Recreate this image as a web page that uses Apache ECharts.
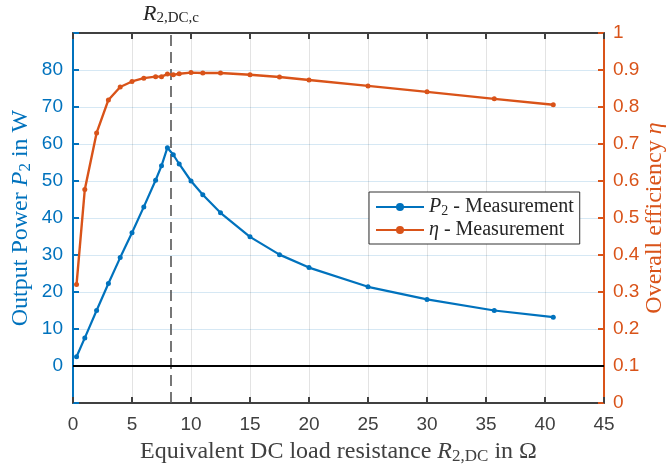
<!DOCTYPE html>
<html>
<head>
<meta charset="utf-8">
<script src="https://cdn.jsdelivr.net/npm/echarts@6/dist/echarts.min.js"></script>
<style>
  html, body { margin: 0; padding: 0; background: #fff; }
  #chart { width: 670px; height: 469px; }
</style>
</head>
<body>
<div id="chart"></div>
<script>
// Equivalent DC load resistance R2,DC in ohm
const resistance = [0.3, 1, 2, 3, 4, 5, 6, 7, 7.5, 8, 8.5, 9, 10, 11, 12.5, 15, 17.5, 20, 25, 30, 35.7, 40.7];
// Measured output power P2 in W
const power = [2.5, 7.6, 15.0, 22.3, 29.3, 36.0, 43.0, 50.2, 54.1, 59.0, 57.1, 54.6, 50.0, 46.3, 41.4, 34.9, 30.1, 26.6, 21.4, 18.0, 15.0, 13.2];
// Measured overall efficiency
const efficiency = [0.320, 0.577, 0.730, 0.819, 0.854, 0.869, 0.878, 0.882, 0.882, 0.889, 0.887, 0.890, 0.893, 0.892, 0.892, 0.887, 0.881, 0.873, 0.857, 0.841, 0.822, 0.806];
// Critical resistance R2,DC,c
const criticalResistance = 8.3;
// Axis ranges and tick steps
const xRange = [0, 45, 5];
const powerRange = [-10, 90, 10];
const effRange = [0, 1, 0.1];

const BLUE = '#0072BD';
const ORANGE = '#D95319';
const AXIS = '#404040';
const SERIF = '"Liberation Serif", "DejaVu Serif", serif';
const SANS = '"Liberation Sans", Arial, sans-serif';

// Rich-text styles for math-like labels: normal, italic and subscript
function mathRich(size, color) {
  const sub = Math.round(size * 0.7);
  return {
    n: { fontFamily: SERIF, fontSize: size, color: color, lineHeight: size + 6 },
    i: { fontFamily: SERIF, fontSize: size, fontStyle: 'italic', color: color, lineHeight: size + 6 },
    s: { fontFamily: SERIF, fontSize: sub, color: color, lineHeight: size + 6, padding: [Math.round(size * 0.4), 0, 0, 0] }
  };
}

const chart = echarts.init(document.getElementById('chart'), null, { renderer: 'canvas' });

const option = {
  animation: false,
  backgroundColor: '#fff',
  grid: { left: 73, right: 66, top: 33, bottom: 66, containLabel: false, outerBoundsMode: 'none' },
  legend: {
    left: 369, top: 192,
    orient: 'vertical',
    backgroundColor: '#fff',
    borderColor: '#333',
    borderWidth: 1,
    borderRadius: 0,
    padding: [4, 6, 4, 6],
    itemGap: 2,
    itemWidth: 48,
    itemHeight: 10,
    data: ['P2', 'eta'],
    formatter: function (name) {
      return name === 'P2' ? '{i|P}{s|2}{n| - Measurement}' : '{i|η}{n| - Measurement}';
    },
    textStyle: { rich: mathRich(20, '#262626') }
  },
  xAxis: [
    {
      type: 'value', position: 'bottom',
      min: xRange[0], max: xRange[1], interval: xRange[2],
      name: '{n|Equivalent DC load resistance }{i|R}{s|2,DC}{n| in Ω}',
      nameLocation: 'middle', nameGap: 34, nameMoveOverlap: false,
      nameTextStyle: { rich: mathRich(24, AXIS) },
      axisLine: { show: true, onZero: false, lineStyle: { color: AXIS, width: 2 } },
      axisTick: { show: true, inside: true, length: 6, lineStyle: { color: AXIS, width: 2 } },
      axisLabel: { color: AXIS, fontFamily: SANS, fontSize: 19, margin: 12 },
      splitLine: { show: true, lineStyle: { color: 'rgba(38,38,38,0.13)', width: 1 } }
    },
    {
      type: 'value', position: 'top',
      min: xRange[0], max: xRange[1], interval: xRange[2],
      axisLine: { show: true, onZero: false, lineStyle: { color: AXIS, width: 2 } },
      axisTick: { show: true, inside: true, length: 6, lineStyle: { color: AXIS, width: 2 } },
      axisLabel: { show: false },
      splitLine: { show: false }
    }
  ],
  yAxis: [
    {
      type: 'value', position: 'left',
      min: powerRange[0], max: powerRange[1], interval: powerRange[2],
      name: '{n|Output Power }{i|P}{s|2}{n| in W}',
      nameLocation: 'middle', nameGap: 37, nameRotate: 90, nameMoveOverlap: false,
      nameTextStyle: { rich: mathRich(24, BLUE) },
      axisLine: { show: true, onZero: false, lineStyle: { color: BLUE, width: 2 } },
      axisTick: { show: true, inside: true, length: 6, lineStyle: { color: BLUE, width: 2 } },
      axisLabel: {
        color: BLUE, fontFamily: SANS, fontSize: 19, margin: 10,
        formatter: function (v) { return (v < 0 || v > 80) ? '' : String(v); }
      },
      splitLine: { show: true, lineStyle: { color: 'rgba(0,114,189,0.16)', width: 1 } }
    },
    {
      type: 'value', position: 'right',
      min: effRange[0], max: effRange[1], interval: effRange[2],
      name: '{n|Overall efficiency }{i|η}',
      nameLocation: 'middle', nameGap: 36, nameRotate: 90, nameMoveOverlap: false,
      nameTextStyle: { rich: mathRich(24, ORANGE) },
      axisLine: { show: true, onZero: false, lineStyle: { color: ORANGE, width: 2 } },
      axisTick: { show: true, inside: true, length: 6, lineStyle: { color: ORANGE, width: 2 } },
      axisLabel: {
        color: ORANGE, fontFamily: SANS, fontSize: 19, margin: 9,
        formatter: function (v) { return String(Math.round(v * 10) / 10); }
      },
      splitLine: { show: false }
    }
  ],
  series: [
    {
      name: 'P2', type: 'line', xAxisIndex: 0, yAxisIndex: 0,
      data: resistance.map((r, k) => [r, power[k]]),
      color: BLUE,
      symbol: 'circle', symbolSize: 5, showSymbol: true,
      lineStyle: { width: 2.2, color: BLUE },
      itemStyle: { color: BLUE },
      z: 5,
      markLine: {
        silent: true, symbol: ['none', 'none'], animation: false,
        data: [
          {
            xAxis: criticalResistance,
            lineStyle: { type: [11, 6], color: '#555', width: 1.6 },
            label: {
              show: true, position: 'end', distance: 5,
              formatter: '{i|R}{s|2,DC,c}',
              rich: mathRich(22, '#262626')
            }
          },
          {
            yAxis: 0,
            lineStyle: { type: 'solid', color: '#000', width: 2 },
            label: { show: false }
          }
        ]
      }
    },
    {
      name: 'eta', type: 'line', xAxisIndex: 0, yAxisIndex: 1,
      data: resistance.map((r, k) => [r, efficiency[k]]),
      color: ORANGE,
      symbol: 'circle', symbolSize: 5, showSymbol: true,
      lineStyle: { width: 2.4, color: ORANGE },
      itemStyle: { color: ORANGE },
      z: 6
    }
  ]
};

chart.setOption(option);
</script>
</body>
</html>
